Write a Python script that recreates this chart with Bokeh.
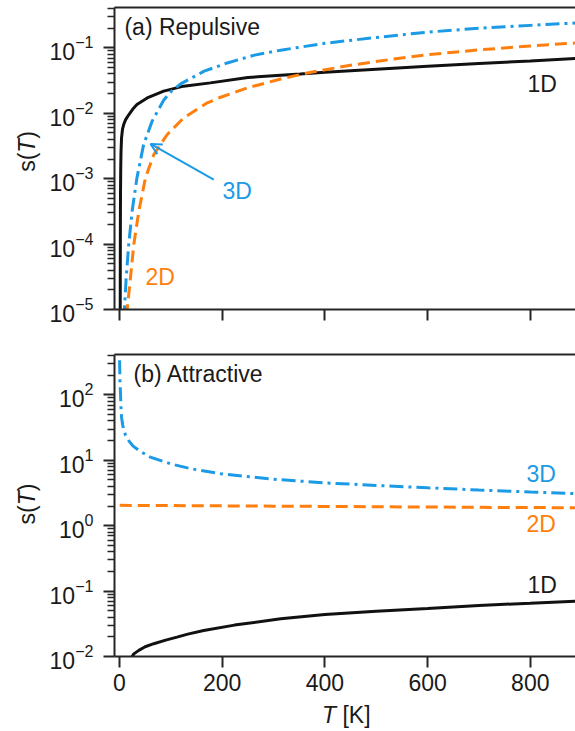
import numpy as np
from bokeh.plotting import figure
from bokeh.models import (Range1d, FixedTicker, LinearAxis, Label, Arrow, OpenHead, Div)
from bokeh.layouts import column, row
from bokeh.embed import file_html
from bokeh.resources import INLINE

# ---------------- data ----------------
x_ticks = [0, 200, 400, 600, 800]
x_tick_labels = ["0", "200", "400", "600", "800"]
top_y_ticks = [1e-5, 1e-4, 1e-3, 1e-2, 1e-1]
bot_y_ticks = [1e-2, 1e-1, 1e0, 1e1, 1e2]

# (a) Repulsive
rep_1d_T = [1.4, 1.6, 1.8, 2.0, 2.4, 3.0, 4.0, 6.0, 8.4, 12, 18, 26, 34, 54, 86, 125,
            177, 250, 314, 352, 400, 500, 600, 700, 800, 888]
rep_1d_s = [8e-6, 5e-5, 2.5e-4, 6e-4, 1.4e-3, 2.6e-3, 4.2e-3, 5.8e-3, 6.8e-3, 8.0e-3,
            9.5e-3, 1.16e-2, 1.36e-2, 1.72e-2, 2.18e-2, 2.6e-2, 2.92e-2, 3.52e-2,
            3.83e-2, 4.0e-2, 4.25e-2, 4.72e-2, 5.25e-2, 5.77e-2, 6.32e-2, 6.89e-2]

rep_2d_T = [14, 15, 21.4, 27.9, 37.6, 50.6, 66.8, 93, 125, 171, 197, 250, 314, 373,
            450, 525, 599, 700, 800, 888]
rep_2d_s = [7.9e-6, 1e-5, 3.04e-5, 9.86e-5, 3.18e-4, 1.03e-3, 2.34e-3, 4.74e-3, 8.51e-3,
            1.445e-2, 1.76e-2, 2.46e-2, 3.35e-2, 4.25e-2, 5.43e-2, 6.61e-2, 7.85e-2,
            9.33e-2, 0.107, 0.119]

rep_3d_T = [9.0, 9.7, 13, 18, 24.6, 34, 47, 63.6, 86, 100, 119, 165, 210, 263, 314, 400,
            500, 599, 700, 800, 888]
rep_3d_s = [7.08e-6, 1e-5, 3.04e-5, 9.86e-5, 3.18e-4, 1.03e-3, 3.33e-3, 7.59e-3,
            1.585e-2, 2.14e-2, 2.82e-2, 4.41e-2, 5.89e-2, 7.76e-2, 9.23e-2, 0.1175,
            0.1445, 0.174, 0.1995, 0.221, 0.240]

# (b) Attractive
att_1d_T = [24, 28, 37.6, 50, 66.8, 90, 112, 133, 164, 224, 314, 400, 500, 600, 700,
            800, 888]
att_1d_s = [9.77e-3, 1.096e-2, 1.24e-2, 1.41e-2, 1.57e-2, 1.78e-2, 1.98e-2, 2.20e-2,
            2.49e-2, 3.02e-2, 3.78e-2, 4.37e-2, 4.90e-2, 5.43e-2, 6.03e-2, 6.53e-2,
            7.03e-2]

att_2d_T = [0.5, 100, 200, 300, 400, 500, 600, 700, 800, 888]
att_2d_s = [2.05, 2.03, 2.01, 1.99, 1.97, 1.95, 1.93, 1.91, 1.895, 1.88]

att_3d_T = [0.3, 0.6, 1, 2, 3, 4, 6, 8.4, 12, 18, 26, 38, 60, 100, 140, 200, 300, 400,
            500, 600, 700, 800, 888]
att_3d_s = [339, 224, 158, 105, 63, 45.7, 35.5, 28.8, 24.0, 20.0, 16.6, 14.1, 11.2,
            8.81, 7.41, 6.17, 5.13, 4.52, 4.12, 3.80, 3.51, 3.27, 3.09]

# ---------------- style / layout ----------------
FONT = "Liberation Sans"
AX = "#262626"
TXT = "#1a1a1a"
BLACK = "#111111"
BLUE = "#1b9ae6"
ORANGE = "#ff7f0e"
FS = "23px"
X_RANGE = Range1d(-9.7, 888)
PX_PER_DECADE = 65.4
FRAME_H = 302
W_TOTAL, H_TOTAL = 575, 731
W_YLAB = 44          # strip holding the rotated y labels
H_TOP, H_BOT = 339, 365
H_XLAB = H_TOTAL - H_TOP - H_BOT
YLAB_TOP_PAD = 12.5  # space the label strip keeps above its drawing area


def minor_ticks(lo_exp, hi_exp):
    return [m * 10.0 ** k for k in range(lo_exp, hi_exp) for m in range(2, 10)]


def style_axis(ax, standoff):
    ax.axis_line_color = AX
    ax.axis_line_width = 2
    ax.major_tick_line_color = AX
    ax.major_tick_line_width = 2
    ax.major_tick_out = 11
    ax.major_tick_in = 0
    ax.minor_tick_line_color = AX
    ax.minor_tick_line_width = 1.5
    ax.minor_tick_out = 7
    ax.minor_tick_in = 0
    ax.major_label_text_font = FONT
    ax.major_label_text_font_size = FS
    ax.major_label_text_color = TXT
    ax.major_label_standoff = standoff
    ax.axis_label_standoff = 0


def clean(p):
    p.outline_line_color = None
    p.grid.visible = False
    p.background_fill_color = "white"
    p.border_fill_color = "white"


def make_fig(height, b_top, b_bottom, y_rng, y_major, y_minor, show_x_labels):
    p = figure(width=W_TOTAL - W_YLAB, height=height, x_range=X_RANGE,
               y_range=Range1d(*y_rng), y_axis_type="log", title=None,
               output_backend="svg", toolbar_location=None,
               min_border_left=114 - W_YLAB, min_border_right=0,
               min_border_top=b_top, min_border_bottom=b_bottom)
    clean(p)

    xa = p.xaxis[0]
    xa.ticker = FixedTicker(ticks=x_ticks, minor_ticks=[])
    style_axis(xa, 6)
    if show_x_labels:
        xa.major_label_overrides = {t: l for t, l in zip(x_ticks, x_tick_labels)}
    else:
        xa.major_label_text_color = None
        xa.major_label_text_font_size = "10px"
        xa.major_label_standoff = 0

    ya = p.yaxis[0]
    ya.ticker = FixedTicker(ticks=y_major, minor_ticks=y_minor)
    style_axis(ya, 10)

    top = LinearAxis(ticker=FixedTicker(ticks=[], minor_ticks=[]),
                     major_label_text_font_size="0px", major_label_standoff=0,
                     major_tick_out=0, major_tick_in=0, minor_tick_out=0,
                     minor_tick_in=0, axis_line_color=AX, axis_line_width=2)
    p.add_layout(top, "above")
    return p


def make_label(x, y, text, color=TXT, align="left", baseline="middle",
               xo=0, yo=0, angle=0, style="normal"):
    return Label(x=x, y=y, text=text, text_font=FONT, text_font_size=FS,
                 text_color=color, text_align=align, text_baseline=baseline,
                 x_offset=xo, y_offset=yo, angle=angle, text_font_style=style)


def add_text(p, *args, **kw):
    p.add_layout(make_label(*args, **kw))


# ---------------- top panel ----------------
top_rng = (1e-5, 10 ** (-5 + FRAME_H / PX_PER_DECADE))
p1 = make_fig(H_TOP, 7, H_TOP - 7 - FRAME_H, top_rng, top_y_ticks,
              minor_ticks(-5, 0), False)
p1.line(rep_1d_T, rep_1d_s, line_color=BLACK, line_width=3)
p1.line(rep_2d_T, rep_2d_s, line_color=ORANGE, line_width=3, line_dash="12 6")
p1.line(rep_3d_T, rep_3d_s, line_color=BLUE, line_width=3, line_dash="14 5 3 5")
add_text(p1, 9.7, 0.2075, "(a) Repulsive")
add_text(p1, 794.5, 0.02838, "1D")
add_text(p1, 50.6, 3.1e-5, "2D", color=ORANGE)
add_text(p1, 200.6, 6.46e-4, "3D", color=BLUE)
p1.add_layout(Arrow(x_start=183.6, y_start=9.7e-4, x_end=60.4, y_end=3.4e-3,
                    line_color=BLUE, line_width=2,
                    end=OpenHead(size=11, line_color=BLUE, line_width=2)))

# ---------------- bottom panel ----------------
bot_rng = (1e-2, 10 ** (-2 + FRAME_H / PX_PER_DECADE))
p2 = make_fig(H_BOT, 15, H_BOT - 15 - FRAME_H, bot_rng, bot_y_ticks,
              minor_ticks(-2, 3), True)
p2.line(att_1d_T, att_1d_s, line_color=BLACK, line_width=3)
p2.line(att_2d_T, att_2d_s, line_color=ORANGE, line_width=3, line_dash="12 6")
p2.line(att_3d_T, att_3d_s, line_color=BLUE, line_width=3, line_dash="14 5 3 5")
add_text(p2, 27.3, 205.6, "(b) Attractive")
add_text(p2, 792.6, 6.19, "3D", color=BLUE)
add_text(p2, 792.6, 1.067, "2D", color=ORANGE)
add_text(p2, 794.5, 0.1222, "1D")

# ---------------- x axis label: "T [K]" (HTML text) ----------------
xlab = Div(text="<i>T</i> [K]", width=W_TOTAL - W_YLAB, height=H_XLAB,
           margin=(0, 0, 0, 0),
           styles={"font-family": FONT, "font-size": FS, "color": TXT,
                   "line-height": "22px", "padding-left": "278px",
                   "white-space": "nowrap", "overflow": "visible"})

# ---------------- y axis label strip: "s(T)" twice ----------------
py = figure(width=W_YLAB, height=H_TOTAL, x_range=Range1d(0, W_YLAB),
            y_range=Range1d(0, H_TOTAL - YLAB_TOP_PAD),
            x_axis_location=None, y_axis_location=None, title=None,
            output_backend="svg", toolbar_location=None, min_border=0)
clean(py)
for yc in (H_TOTAL - 160.8, H_TOTAL - 507.4):   # vertical centres of the two frames
    add_text(py, 26, yc, "s(", align="right", yo=-1.25, angle=np.pi / 2)
    add_text(py, 26, yc, "T", align="center", yo=5.75, angle=np.pi / 2,
             style="italic")
    add_text(py, 26, yc, ")", align="left", yo=12.75, angle=np.pi / 2)

layout = row(py, column(p1, p2, xlab, spacing=0), spacing=0)
open("out.html", "w").write(file_html(layout, INLINE))
